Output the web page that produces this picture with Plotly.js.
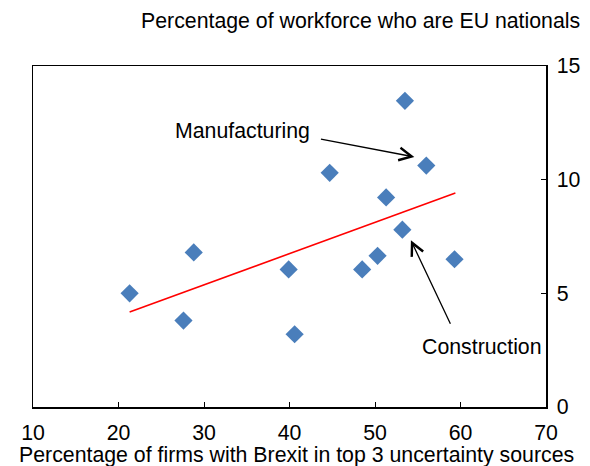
<!DOCTYPE html>
<html>
<head>
<meta charset="utf-8">
<script src="https://cdn.plot.ly/plotly-3.0.1.min.js"></script>
<style>html,body{margin:0;padding:0;background:#fff;}#chart{width:590px;height:466px;}</style>
</head>
<body>
<div id="chart"></div>
<script>
// Sector data: % of firms with Brexit in top 3 uncertainty sources vs % of workforce EU nationals
const brexitShare = [21.3, 27.6, 28.8, 39.9, 40.6, 44.7, 48.5, 50.3, 51.3, 53.2, 53.5, 56.0, 59.3];
const euWorkforce = [5.0, 3.8, 6.8, 6.05, 3.2, 10.3, 6.05, 6.65, 9.22, 7.8, 13.47, 10.62, 6.5];
// Fitted line end points
const trendX = [21.3, 59.4];
const trendY = [4.18, 9.41];
// Tick values
const xTicks = [10, 20, 30, 40, 50, 60, 70];
const yTicks = [0, 5, 10, 15];
// Labels
const yTitleText = 'Percentage of workforce who are EU nationals';
const xTitleText = 'Percentage of firms with Brexit in top 3 uncertainty sources';
const labelNames = ['Manufacturing', 'Construction'];
const labelPos = [[34.5, 12.16], [62.47, 2.64]];
const arrowTail = [[43.5, 11.8], [58.9, 3.6]];
const arrowHead = [[54.6, 11.0], [54.2, 7.33]];

const FONT = 'Liberation Sans, Arial, sans-serif';
const FS = 21.3;

const traces = [
  {
    x: trendX, y: trendY, type: 'scatter', mode: 'lines',
    line: {color: '#FF0000', width: 1.6}, hoverinfo: 'skip', showlegend: false
  },
  {
    x: brexitShare, y: euWorkforce, type: 'scatter', mode: 'markers',
    marker: {symbol: 'diamond', size: 14, color: '#4A7EBB', line: {width: 0}},
    showlegend: false
  }
];

const annotations = [];
labelNames.forEach((name, i) => {
  annotations.push({
    x: labelPos[i][0], y: labelPos[i][1], xref: 'x', yref: 'y',
    text: name, showarrow: false, xanchor: 'center', yanchor: 'middle',
    font: {family: FONT, size: FS, color: '#000'}
  });
  annotations.push({
    x: arrowHead[i][0], y: arrowHead[i][1], xref: 'x', yref: 'y',
    ax: arrowTail[i][0], ay: arrowTail[i][1], axref: 'x', ayref: 'y',
    text: '', showarrow: true, arrowhead: 5, arrowsize: 1.9, arrowwidth: 1.3,
    arrowcolor: '#000', standoff: 0, startstandoff: 0
  });
});
// y-axis title (horizontal, above the right axis)
annotations.push({
  x: 1.07, y: 1.131, xref: 'paper', yref: 'paper',
  text: yTitleText, showarrow: false, xanchor: 'right', yanchor: 'middle',
  font: {family: FONT, size: FS, color: '#000'}
});
// x-axis title
annotations.push({
  x: 0.513, y: -0.141, xref: 'paper', yref: 'paper',
  text: xTitleText, showarrow: false, xanchor: 'center', yanchor: 'middle',
  font: {family: FONT, size: FS, color: '#000'}
});

const layout = {
  width: 590, height: 466,
  margin: {l: 33, r: 44, t: 66, b: 59, pad: 0},
  paper_bgcolor: '#fff', plot_bgcolor: '#fff',
  font: {family: FONT, size: FS, color: '#000'},
  showlegend: false,
  xaxis: {
    range: [10, 70], tickvals: xTicks, ticktext: xTicks.map(String),
    ticks: 'inside', ticklen: 5, tickwidth: 1, tickcolor: '#000',
    showgrid: false, zeroline: false, showline: true, linecolor: '#000', linewidth: 1.5,
    mirror: true, ticklabelstandoff: 6,
    tickfont: {family: FONT, size: FS, color: '#000'},
    title: {text: ''}
  },
  yaxis: {
    range: [0, 15], tickvals: yTicks, ticktext: yTicks.map(String), side: 'right',
    ticks: 'inside', ticklen: 5, tickwidth: 1, tickcolor: '#000',
    showgrid: false, zeroline: false, showline: true, linecolor: '#000', linewidth: 1.5,
    mirror: true, ticklabelstandoff: 5,
    tickfont: {family: FONT, size: FS, color: '#000'},
    title: {text: ''}
  },
  annotations: annotations
};

Plotly.newPlot('chart', traces, layout, {displayModeBar: false, staticPlot: true});
</script>
</body>
</html>
